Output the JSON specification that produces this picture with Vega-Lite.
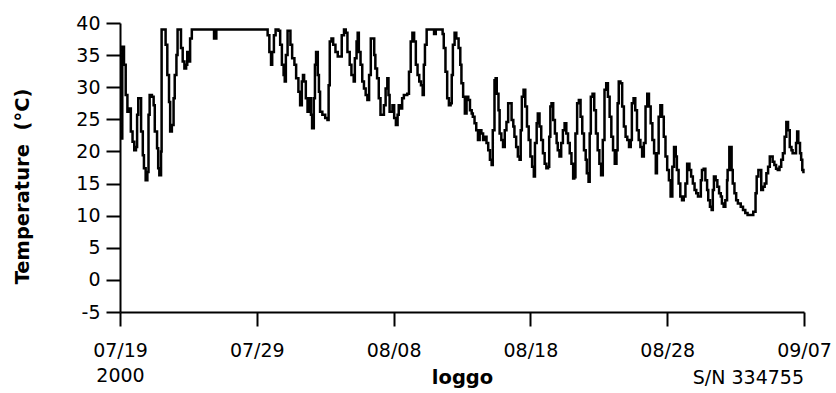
{
  "$schema": "https://vega.github.io/schema/vega-lite/v6.json",
  "width": 684,
  "height": 289,
  "autosize": {"type": "none"},
  "padding": {"left": 120, "top": 23, "right": 32, "bottom": 81},
  "background": "white",
  "config": {
    "view": {"stroke": null},
    "axis": {
      "grid": false,
      "domainColor": "black",
      "domainWidth": 2,
      "tickColor": "black",
      "tickWidth": 2,
      "tickSize": 14,
      "labelColor": "black",
      "labelFont": "DejaVu Sans",
      "labelFontSize": 19,
      "titleColor": "black",
      "titleFont": "DejaVu Sans",
      "titleFontWeight": "bold",
      "titleFontSize": 19.5
    },
    "axisX": {
      "format": "%m/%d",
      "labelExpr": "datum.index == 0 ? [datum.label, '2000'] : datum.label",
      "labelLineHeight": 25,
      "labelPadding": 15,
      "labelFlush": false,
      "labelOverlap": false,
      "titleBaseline": "alphabetic",
      "titleY": 71,
      "titleAnchor": "middle"
    },
    "axisY": {
      "labelExpr": "'' + datum.value",
      "labelPadding": 6,
      "labelFlush": false,
      "labelOverlap": false,
      "titleAngle": 270,
      "titleAlign": "center",
      "titleBaseline": "alphabetic",
      "titleX": -92,
      "titleY": 163
    }
  },
  "layer": [
    {
      "data": {
        "values": [
          {"t":"2000-07-19T00:00","c":22.0},{"t":"2000-07-19T04:00","c":36.3},{"t":"2000-07-19T07:00","c":33.5},{"t":"2000-07-19T10:00","c":28.8},
          {"t":"2000-07-19T13:00","c":26.2},{"t":"2000-07-19T16:00","c":26.7},{"t":"2000-07-19T19:00","c":23.1},{"t":"2000-07-19T22:00","c":21.5},
          {"t":"2000-07-20T01:00","c":20.2},{"t":"2000-07-20T04:00","c":20.7},{"t":"2000-07-20T06:00","c":25.7},{"t":"2000-07-20T08:00","c":28.3},
          {"t":"2000-07-20T10:00","c":28.3},{"t":"2000-07-20T13:00","c":23.1},{"t":"2000-07-20T16:00","c":19.4},{"t":"2000-07-20T18:00","c":17.4},
          {"t":"2000-07-20T21:00","c":15.5},{"t":"2000-07-21T00:00","c":16.8},{"t":"2000-07-21T02:00","c":25.7},{"t":"2000-07-21T04:00","c":28.8},
          {"t":"2000-07-21T08:00","c":28.5},{"t":"2000-07-21T11:00","c":27.2},{"t":"2000-07-21T13:00","c":23.1},{"t":"2000-07-21T17:00","c":20.5},
          {"t":"2000-07-21T19:00","c":17.4},{"t":"2000-07-21T21:00","c":16.3},{"t":"2000-07-22T00:00","c":20.0},{"t":"2000-07-22T01:00","c":39.0},
          {"t":"2000-07-22T06:00","c":39.0},{"t":"2000-07-22T08:00","c":36.6},{"t":"2000-07-22T11:00","c":31.9},{"t":"2000-07-22T14:00","c":27.7},
          {"t":"2000-07-22T16:00","c":23.1},{"t":"2000-07-22T19:00","c":24.1},{"t":"2000-07-22T22:00","c":28.3},{"t":"2000-07-23T00:00","c":31.9},
          {"t":"2000-07-23T03:00","c":35.0},{"t":"2000-07-23T05:00","c":39.0},{"t":"2000-07-23T08:00","c":39.0},{"t":"2000-07-23T11:00","c":36.1},
          {"t":"2000-07-23T14:00","c":34.0},{"t":"2000-07-23T17:00","c":32.9},{"t":"2000-07-23T20:00","c":33.5},{"t":"2000-07-23T22:00","c":35.5},
          {"t":"2000-07-24T01:00","c":34.0},{"t":"2000-07-24T03:00","c":37.6},{"t":"2000-07-24T06:00","c":39.0},{"t":"2000-07-25T17:00","c":39.0},
          {"t":"2000-07-25T21:00","c":37.6},{"t":"2000-07-26T01:00","c":39.0},{"t":"2000-07-29T17:00","c":39.0},{"t":"2000-07-29T19:00","c":38.1},
          {"t":"2000-07-29T22:00","c":35.5},{"t":"2000-07-30T01:00","c":33.5},{"t":"2000-07-30T03:00","c":35.5},{"t":"2000-07-30T06:00","c":38.1},
          {"t":"2000-07-30T09:00","c":39.0},{"t":"2000-07-30T14:00","c":38.8},{"t":"2000-07-30T17:00","c":36.6},{"t":"2000-07-30T20:00","c":33.5},
          {"t":"2000-07-30T23:00","c":31.9},{"t":"2000-07-31T01:00","c":30.9},{"t":"2000-07-31T03:00","c":35.0},{"t":"2000-07-31T06:00","c":38.8},
          {"t":"2000-07-31T08:00","c":38.8},{"t":"2000-07-31T11:00","c":36.6},{"t":"2000-07-31T14:00","c":34.5},{"t":"2000-07-31T18:00","c":33.5},
          {"t":"2000-07-31T21:00","c":31.4},{"t":"2000-08-01T01:00","c":29.3},{"t":"2000-08-01T04:00","c":27.2},{"t":"2000-08-01T07:00","c":30.9},
          {"t":"2000-08-01T09:00","c":31.9},{"t":"2000-08-01T11:00","c":30.9},{"t":"2000-08-01T14:00","c":28.3},{"t":"2000-08-01T17:00","c":26.2},
          {"t":"2000-08-01T20:00","c":28.3},{"t":"2000-08-01T23:00","c":25.7},{"t":"2000-08-02T01:00","c":23.6},{"t":"2000-08-02T04:00","c":28.3},
          {"t":"2000-08-02T06:00","c":33.5},{"t":"2000-08-02T08:00","c":35.5},{"t":"2000-08-02T11:00","c":31.9},{"t":"2000-08-02T13:00","c":29.3},
          {"t":"2000-08-02T15:00","c":26.2},{"t":"2000-08-02T19:00","c":25.7},{"t":"2000-08-03T00:00","c":25.2},{"t":"2000-08-03T04:00","c":24.9},
          {"t":"2000-08-03T06:00","c":30.3},{"t":"2000-08-03T08:00","c":37.1},{"t":"2000-08-03T11:00","c":37.6},{"t":"2000-08-03T14:00","c":36.6},
          {"t":"2000-08-03T18:00","c":35.5},{"t":"2000-08-03T22:00","c":34.8},{"t":"2000-08-04T02:00","c":34.8},{"t":"2000-08-04T05:00","c":38.1},
          {"t":"2000-08-04T09:00","c":39.0},{"t":"2000-08-04T12:00","c":38.5},{"t":"2000-08-04T15:00","c":35.5},{"t":"2000-08-04T19:00","c":33.5},
          {"t":"2000-08-04T22:00","c":31.9},{"t":"2000-08-05T02:00","c":30.9},{"t":"2000-08-05T04:00","c":34.5},{"t":"2000-08-05T07:00","c":37.1},
          {"t":"2000-08-05T09:00","c":38.5},{"t":"2000-08-05T11:00","c":35.5},{"t":"2000-08-05T14:00","c":33.5},{"t":"2000-08-05T17:00","c":30.9},
          {"t":"2000-08-05T20:00","c":29.8},{"t":"2000-08-05T23:00","c":28.8},{"t":"2000-08-06T02:00","c":28.0},{"t":"2000-08-06T05:00","c":31.9},
          {"t":"2000-08-06T08:00","c":37.6},{"t":"2000-08-06T11:00","c":37.6},{"t":"2000-08-06T14:00","c":35.0},{"t":"2000-08-06T16:00","c":32.9},
          {"t":"2000-08-06T19:00","c":31.4},{"t":"2000-08-06T22:00","c":28.3},{"t":"2000-08-07T01:00","c":25.7},{"t":"2000-08-07T04:00","c":25.7},
          {"t":"2000-08-07T07:00","c":27.2},{"t":"2000-08-07T10:00","c":29.8},{"t":"2000-08-07T13:00","c":31.4},{"t":"2000-08-07T15:00","c":28.8},
          {"t":"2000-08-07T17:00","c":26.2},{"t":"2000-08-07T20:00","c":26.2},{"t":"2000-08-07T22:00","c":27.2},{"t":"2000-08-08T01:00","c":25.2},
          {"t":"2000-08-08T04:00","c":24.1},{"t":"2000-08-08T07:00","c":25.7},{"t":"2000-08-08T09:00","c":27.2},{"t":"2000-08-08T12:00","c":26.7},
          {"t":"2000-08-08T15:00","c":28.3},{"t":"2000-08-08T18:00","c":28.8},{"t":"2000-08-08T21:00","c":28.8},{"t":"2000-08-09T00:00","c":29.0},
          {"t":"2000-08-09T03:00","c":32.4},{"t":"2000-08-09T06:00","c":37.1},{"t":"2000-08-09T09:00","c":38.5},{"t":"2000-08-09T12:00","c":37.1},
          {"t":"2000-08-09T15:00","c":33.5},{"t":"2000-08-09T18:00","c":31.9},{"t":"2000-08-09T21:00","c":30.9},{"t":"2000-08-10T00:00","c":30.3},
          {"t":"2000-08-10T03:00","c":28.8},{"t":"2000-08-10T05:00","c":33.5},{"t":"2000-08-10T07:00","c":36.6},{"t":"2000-08-10T10:00","c":39.0},
          {"t":"2000-08-10T21:00","c":39.0},{"t":"2000-08-10T23:00","c":38.3},{"t":"2000-08-11T02:00","c":39.0},{"t":"2000-08-11T11:00","c":39.0},
          {"t":"2000-08-11T14:00","c":38.3},{"t":"2000-08-11T16:00","c":36.1},{"t":"2000-08-11T19:00","c":32.4},{"t":"2000-08-11T22:00","c":28.3},
          {"t":"2000-08-12T01:00","c":27.2},{"t":"2000-08-12T04:00","c":27.5},{"t":"2000-08-12T06:00","c":31.9},{"t":"2000-08-12T08:00","c":36.6},
          {"t":"2000-08-12T11:00","c":38.5},{"t":"2000-08-12T14:00","c":37.6},{"t":"2000-08-12T18:00","c":36.1},{"t":"2000-08-12T21:00","c":33.5},
          {"t":"2000-08-12T23:00","c":30.6},{"t":"2000-08-13T02:00","c":28.5},{"t":"2000-08-13T05:00","c":25.9},{"t":"2000-08-13T08:00","c":28.5},
          {"t":"2000-08-13T11:00","c":28.0},{"t":"2000-08-13T14:00","c":26.4},{"t":"2000-08-13T17:00","c":25.9},{"t":"2000-08-13T19:00","c":25.4},
          {"t":"2000-08-13T22:00","c":24.4},{"t":"2000-08-14T01:00","c":23.3},{"t":"2000-08-14T04:00","c":21.8},{"t":"2000-08-14T07:00","c":23.3},
          {"t":"2000-08-14T10:00","c":22.8},{"t":"2000-08-14T13:00","c":21.8},{"t":"2000-08-14T16:00","c":22.3},{"t":"2000-08-14T19:00","c":21.3},
          {"t":"2000-08-14T22:00","c":20.2},{"t":"2000-08-15T01:00","c":18.7},{"t":"2000-08-15T04:00","c":17.9},{"t":"2000-08-15T06:00","c":23.3},
          {"t":"2000-08-15T09:00","c":31.1},{"t":"2000-08-15T11:00","c":31.4},{"t":"2000-08-15T13:00","c":29.0},{"t":"2000-08-15T16:00","c":26.4},
          {"t":"2000-08-15T18:00","c":22.8},{"t":"2000-08-15T21:00","c":21.8},{"t":"2000-08-16T00:00","c":20.7},{"t":"2000-08-16T03:00","c":23.3},
          {"t":"2000-08-16T06:00","c":24.6},{"t":"2000-08-16T09:00","c":27.5},{"t":"2000-08-16T12:00","c":27.5},{"t":"2000-08-16T15:00","c":24.9},
          {"t":"2000-08-16T18:00","c":23.9},{"t":"2000-08-16T20:00","c":22.3},{"t":"2000-08-16T23:00","c":20.7},{"t":"2000-08-17T02:00","c":19.2},
          {"t":"2000-08-17T05:00","c":18.7},{"t":"2000-08-17T07:00","c":23.3},{"t":"2000-08-17T09:00","c":28.5},{"t":"2000-08-17T12:00","c":29.6},
          {"t":"2000-08-17T15:00","c":27.0},{"t":"2000-08-17T18:00","c":23.9},{"t":"2000-08-17T21:00","c":21.8},{"t":"2000-08-18T00:00","c":19.2},
          {"t":"2000-08-18T03:00","c":17.6},{"t":"2000-08-18T06:00","c":16.1},{"t":"2000-08-18T08:00","c":21.3},{"t":"2000-08-18T11:00","c":24.4},
          {"t":"2000-08-18T13:00","c":25.9},{"t":"2000-08-18T16:00","c":23.9},{"t":"2000-08-18T19:00","c":21.8},{"t":"2000-08-18T22:00","c":19.7},
          {"t":"2000-08-19T01:00","c":18.1},{"t":"2000-08-19T04:00","c":17.4},{"t":"2000-08-19T07:00","c":17.6},{"t":"2000-08-19T09:00","c":22.3},
          {"t":"2000-08-19T11:00","c":27.0},{"t":"2000-08-19T13:00","c":27.5},{"t":"2000-08-19T16:00","c":24.9},{"t":"2000-08-19T19:00","c":22.8},
          {"t":"2000-08-19T22:00","c":21.3},{"t":"2000-08-20T00:00","c":20.2},{"t":"2000-08-20T03:00","c":19.2},{"t":"2000-08-20T06:00","c":21.3},
          {"t":"2000-08-20T09:00","c":23.3},{"t":"2000-08-20T12:00","c":24.4},{"t":"2000-08-20T15:00","c":22.8},{"t":"2000-08-20T18:00","c":21.3},
          {"t":"2000-08-20T21:00","c":19.7},{"t":"2000-08-21T00:00","c":18.1},{"t":"2000-08-21T03:00","c":15.8},{"t":"2000-08-21T05:00","c":16.0},
          {"t":"2000-08-21T07:00","c":22.8},{"t":"2000-08-21T10:00","c":27.5},{"t":"2000-08-21T13:00","c":28.0},{"t":"2000-08-21T16:00","c":25.4},
          {"t":"2000-08-21T19:00","c":22.8},{"t":"2000-08-21T22:00","c":20.2},{"t":"2000-08-22T01:00","c":18.7},{"t":"2000-08-22T03:00","c":16.6},
          {"t":"2000-08-22T06:00","c":15.3},{"t":"2000-08-22T08:00","c":22.8},{"t":"2000-08-22T10:00","c":28.5},{"t":"2000-08-22T13:00","c":29.0},
          {"t":"2000-08-22T16:00","c":26.4},{"t":"2000-08-22T19:00","c":22.8},{"t":"2000-08-22T22:00","c":20.2},{"t":"2000-08-23T01:00","c":18.1},
          {"t":"2000-08-23T04:00","c":16.3},{"t":"2000-08-23T07:00","c":21.8},{"t":"2000-08-23T10:00","c":29.6},{"t":"2000-08-23T13:00","c":30.6},
          {"t":"2000-08-23T16:00","c":28.5},{"t":"2000-08-23T19:00","c":25.4},{"t":"2000-08-23T22:00","c":22.3},{"t":"2000-08-24T01:00","c":20.2},
          {"t":"2000-08-24T04:00","c":18.1},{"t":"2000-08-24T07:00","c":20.2},{"t":"2000-08-24T09:00","c":27.5},{"t":"2000-08-24T11:00","c":30.9},
          {"t":"2000-08-24T14:00","c":30.6},{"t":"2000-08-24T17:00","c":27.0},{"t":"2000-08-24T20:00","c":23.9},{"t":"2000-08-24T23:00","c":22.3},
          {"t":"2000-08-25T02:00","c":21.8},{"t":"2000-08-25T05:00","c":20.7},{"t":"2000-08-25T08:00","c":21.8},{"t":"2000-08-25T10:00","c":27.5},
          {"t":"2000-08-25T13:00","c":28.3},{"t":"2000-08-25T16:00","c":26.4},{"t":"2000-08-25T19:00","c":23.3},{"t":"2000-08-25T22:00","c":21.8},
          {"t":"2000-08-26T01:00","c":20.7},{"t":"2000-08-26T04:00","c":19.2},{"t":"2000-08-26T07:00","c":21.3},{"t":"2000-08-26T10:00","c":27.0},
          {"t":"2000-08-26T13:00","c":29.0},{"t":"2000-08-26T16:00","c":27.0},{"t":"2000-08-26T19:00","c":24.4},{"t":"2000-08-26T22:00","c":21.8},
          {"t":"2000-08-27T01:00","c":19.7},{"t":"2000-08-27T04:00","c":16.6},{"t":"2000-08-27T06:00","c":19.7},{"t":"2000-08-27T09:00","c":25.4},
          {"t":"2000-08-27T12:00","c":27.2},{"t":"2000-08-27T15:00","c":25.4},{"t":"2000-08-27T18:00","c":22.3},{"t":"2000-08-27T21:00","c":19.2},
          {"t":"2000-08-28T00:00","c":17.1},{"t":"2000-08-28T03:00","c":15.5},{"t":"2000-08-28T06:00","c":13.0},{"t":"2000-08-28T09:00","c":17.6},
          {"t":"2000-08-28T12:00","c":20.7},{"t":"2000-08-28T15:00","c":19.2},{"t":"2000-08-28T17:00","c":17.1},{"t":"2000-08-28T20:00","c":15.0},
          {"t":"2000-08-28T23:00","c":13.0},{"t":"2000-08-29T02:00","c":12.4},{"t":"2000-08-29T05:00","c":13.0},{"t":"2000-08-29T08:00","c":15.0},
          {"t":"2000-08-29T11:00","c":18.1},{"t":"2000-08-29T15:00","c":17.1},{"t":"2000-08-29T18:00","c":16.1},{"t":"2000-08-29T21:00","c":15.0},
          {"t":"2000-08-30T00:00","c":14.0},{"t":"2000-08-30T03:00","c":13.5},{"t":"2000-08-30T06:00","c":13.0},{"t":"2000-08-30T09:00","c":13.0},
          {"t":"2000-08-30T11:00","c":15.5},{"t":"2000-08-30T13:00","c":17.1},{"t":"2000-08-30T16:00","c":17.3},{"t":"2000-08-30T19:00","c":15.5},
          {"t":"2000-08-30T22:00","c":14.0},{"t":"2000-08-31T00:00","c":12.4},{"t":"2000-08-31T03:00","c":11.4},{"t":"2000-08-31T06:00","c":10.9},
          {"t":"2000-08-31T08:00","c":14.0},{"t":"2000-08-31T10:00","c":16.1},{"t":"2000-08-31T13:00","c":15.5},{"t":"2000-08-31T16:00","c":14.5},
          {"t":"2000-08-31T19:00","c":13.5},{"t":"2000-08-31T22:00","c":13.0},{"t":"2000-09-01T00:00","c":11.9},{"t":"2000-09-01T03:00","c":11.4},
          {"t":"2000-09-01T06:00","c":12.4},{"t":"2000-09-01T09:00","c":15.5},{"t":"2000-09-01T10:00","c":17.1},{"t":"2000-09-01T13:00","c":20.7},
          {"t":"2000-09-01T15:00","c":20.7},{"t":"2000-09-01T17:00","c":17.1},{"t":"2000-09-01T19:00","c":15.0},{"t":"2000-09-01T22:00","c":13.5},
          {"t":"2000-09-02T01:00","c":12.4},{"t":"2000-09-02T04:00","c":11.9},{"t":"2000-09-02T09:00","c":11.4},{"t":"2000-09-02T13:00","c":10.9},
          {"t":"2000-09-02T17:00","c":10.4},{"t":"2000-09-02T21:00","c":10.1},{"t":"2000-09-03T03:00","c":10.1},{"t":"2000-09-03T07:00","c":10.6},
          {"t":"2000-09-03T11:00","c":13.5},{"t":"2000-09-03T13:00","c":16.1},{"t":"2000-09-03T16:00","c":17.1},{"t":"2000-09-03T18:00","c":17.1},
          {"t":"2000-09-03T21:00","c":14.0},{"t":"2000-09-04T00:00","c":14.5},{"t":"2000-09-04T03:00","c":15.0},{"t":"2000-09-04T06:00","c":16.6},
          {"t":"2000-09-04T09:00","c":17.6},{"t":"2000-09-04T12:00","c":19.2},{"t":"2000-09-04T14:00","c":19.2},{"t":"2000-09-04T17:00","c":18.4},
          {"t":"2000-09-04T20:00","c":17.9},{"t":"2000-09-04T23:00","c":17.3},{"t":"2000-09-05T02:00","c":17.1},{"t":"2000-09-05T05:00","c":17.6},
          {"t":"2000-09-05T08:00","c":18.7},{"t":"2000-09-05T11:00","c":19.7},{"t":"2000-09-05T14:00","c":22.3},{"t":"2000-09-05T17:00","c":24.6},
          {"t":"2000-09-05T20:00","c":23.3},{"t":"2000-09-05T23:00","c":20.7},{"t":"2000-09-06T02:00","c":20.2},{"t":"2000-09-06T04:00","c":19.7},
          {"t":"2000-09-06T07:00","c":19.7},{"t":"2000-09-06T10:00","c":21.3},{"t":"2000-09-06T12:00","c":23.1},{"t":"2000-09-06T14:00","c":21.3},
          {"t":"2000-09-06T17:00","c":19.7},{"t":"2000-09-06T19:00","c":18.7},{"t":"2000-09-06T21:00","c":17.1},{"t":"2000-09-06T23:00","c":16.6}
        ]
      },
      "mark": {"type": "line", "interpolate": "step-after", "color": "black", "strokeWidth": 2.5},
      "encoding": {
        "x": {
          "field": "t",
          "type": "temporal",
          "title": "loggo",
          "scale": {"domain": [{"year": 2000, "month": 7, "date": 19}, {"year": 2000, "month": 9, "date": 7}]},
          "axis": {
            "values": [
              {"year": 2000, "month": 7, "date": 19},
              {"year": 2000, "month": 7, "date": 29},
              {"year": 2000, "month": 8, "date": 8},
              {"year": 2000, "month": 8, "date": 18},
              {"year": 2000, "month": 8, "date": 28},
              {"year": 2000, "month": 9, "date": 7}
            ]
          }
        },
        "y": {
          "field": "c",
          "type": "quantitative",
          "title": "Temperature\u00a0 (°C)",
          "scale": {"domain": [-5, 40], "zero": false, "nice": false},
          "axis": {"values": [-5, 0, 5, 10, 15, 20, 25, 30, 35, 40]}
        }
      }
    },
    {
      "data": {"values": [{"sn": "S/N 334755"}]},
      "mark": {"type": "text", "align": "right", "baseline": "alphabetic", "font": "DejaVu Sans", "fontSize": 19, "color": "black"},
      "encoding": {
        "x": {
          "datum": {"year": 2000, "month": 9, "date": 7},
          "type": "temporal",
          "title": "loggo",
          "axis": {
            "values": [
              {"year": 2000, "month": 7, "date": 19},
              {"year": 2000, "month": 7, "date": 29},
              {"year": 2000, "month": 8, "date": 8},
              {"year": 2000, "month": 8, "date": 18},
              {"year": 2000, "month": 8, "date": 28},
              {"year": 2000, "month": 9, "date": 7}
            ]
          }
        },
        "y": {
          "datum": -16.2,
          "type": "quantitative",
          "title": "Temperature\u00a0 (°C)",
          "axis": {"values": [-5, 0, 5, 10, 15, 20, 25, 30, 35, 40]}
        },
        "text": {"field": "sn"}
      }
    }
  ]
}
